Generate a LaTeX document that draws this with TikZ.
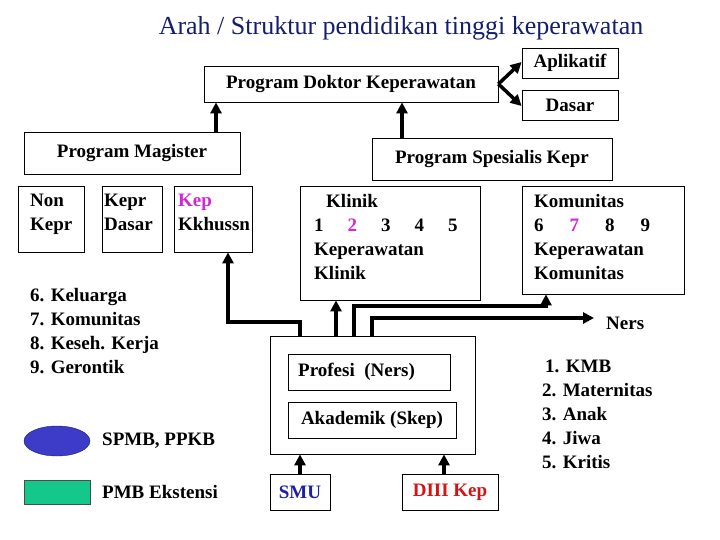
\documentclass[tikz,border=0pt]{standalone}
\usepackage{fontspec}
\setmainfont{Liberation Serif}
\usetikzlibrary{arrows.meta,shapes.geometric}
\definecolor{navy}{RGB}{20,30,110}
\definecolor{pinkk}{RGB}{210,40,210}
\definecolor{blu}{RGB}{60,60,200}
\definecolor{teal2}{RGB}{20,200,140}
\definecolor{redd}{RGB}{210,20,20}
\definecolor{bluet}{RGB}{30,30,170}
\begin{document}
\begin{tikzpicture}[x=1pt,y=-1pt,
  box/.style={draw,line width=0.8pt,inner sep=0pt,font=\bfseries\fontsize{19}{24}\selectfont},
  txt/.style={inner sep=0pt,font=\bfseries\fontsize{19}{24}\selectfont,align=left},
  arr/.style={line width=3.5pt,-{Triangle[length=11pt,width=11pt]}}]
\useasboundingbox (0,0) rectangle (720,540);
\node[inner sep=0pt,text=navy,font=\fontsize{26}{30}\selectfont] (title) at (401,28) {Arah / Struktur pendidikan tinggi keperawatan};
% top
\node[box,minimum width=294pt,minimum height=36pt] (dok) at (351,84) {Program Doktor Keperawatan};
\node[box,minimum width=96pt,minimum height=30pt] (apl) at (570,63) {\raisebox{4pt}{Aplikatif}};
\node[box,minimum width=96pt,minimum height=30pt] (das) at (570,105) {Dasar};
\node[box,minimum width=216pt,minimum height=42pt] (mag) at (132,153) {Program Magister};
\node[box,minimum width=240pt,minimum height=42pt] (spe) at (492,159) {Program Spesialis Kepr};
\draw[arr] (dok.east) -- (apl.west |- 0,62);
\draw[arr] (dok.east) -- (das.west |- 0,106);
\draw[arr] (mag.north -| 216,0) -- (dok.south -| 216,0);
\draw[arr] (spe.north -| 402,0) -- (dok.south -| 402,0);
% magister sub-boxes
\node[box,minimum width=66pt,minimum height=66pt] (non) at (51,219) {};
\node[txt,anchor=north west] (nont) at (30,194) {Non\\Kepr};
\node[box,minimum width=60pt,minimum height=66pt] (kd) at (132,219) {};
\node[txt,anchor=north west] (kdt) at (104,194) {Kepr\\Dasar};
\node[box,minimum width=78pt,minimum height=66pt] (kk) at (213,219) {};
\node[txt,anchor=north west] (kkt) at (178,194) {\textcolor{pinkk}{Kep}\\Kkhussn};
% klinik
\node[box,minimum width=180pt,minimum height=114pt] (kli) at (390,243) {};
\node[txt,anchor=north west] (klit) at (314,194) {\hspace*{12pt}Klinik\\1\hspace{24pt}\textcolor{pinkk}{2}\hspace{24pt}3\hspace{24pt}4\hspace{24pt}5\\Keperawatan\\Klinik};
\node[box,minimum width=162pt,minimum height=108pt] (kom) at (603,240) {};
\node[txt,anchor=north west] (komt) at (534,194) {Komunitas\\6\hspace{26pt}\textcolor{pinkk}{7}\hspace{26pt}8\hspace{26pt}9\\Keperawatan\\Komunitas};
% lists
\node[txt,anchor=north west] (l1) at (30,288) {6. Keluarga\\7. Komunitas\\8. Keseh. Kerja\\9. Gerontik};
\node[txt,anchor=north west] (l2) at (542,360) {\hspace*{3pt}1. KMB\\2. Maternitas\\3. Anak\\4. Jiwa\\5. Kritis};
% center
\node[box,minimum width=205pt,minimum height=118pt] (out) at (372.5,395) {};
\node[box,minimum width=162pt,minimum height=36pt] (pro) at (369,372) {};
\node[txt,anchor=west] (prot) at (298,372) {Profesi\ \ (Ners)};
\node[box,minimum width=168pt,minimum height=36pt] (aka) at (372,420) {Akademik (Skep)};
\node[box,minimum width=60pt,minimum height=36pt,text=bluet] (smu) at (300,492) {SMU};
\node[box,minimum width=96pt,minimum height=36pt,text=redd] (d3) at (450,492) {DIII Kep};
\draw[arr] (smu.north) -- (out.south -| smu.north);
\draw[arr] (d3.north -| 444,0) -- (out.south -| 444,0);
\draw[arr] (out.north -| 300,0) -- (300,322) -- (228,322) -- (kk.south -| 228,0);
\draw[arr] (out.north -| 336,0) -- (kli.south -| 336,0);
\draw[arr] (out.north -| 354,0) -- (354,306) -- (546,306) -- (kom.south -| 546,0);
\coordinate (nersend) at (594,318);
\draw[arr] (out.north -| 372,0) -- (372,318) -- (nersend);
\node[txt,anchor=west] (ners) at (606,323) {Ners};
% legend
\node[ellipse,draw=navy,fill=blu,minimum width=66pt,minimum height=30pt,inner sep=0pt] (ell) at (57,441) {};
\node[txt,anchor=west] (ellt) at (102,441) {SPMB, PPKB};
\node[draw=black!70,fill=teal2,minimum width=66pt,minimum height=24pt,inner sep=0pt] (rec) at (57,492) {};
\node[txt,anchor=west] (rect) at (102,492) {PMB Ekstensi};
\end{tikzpicture}
\end{document}
